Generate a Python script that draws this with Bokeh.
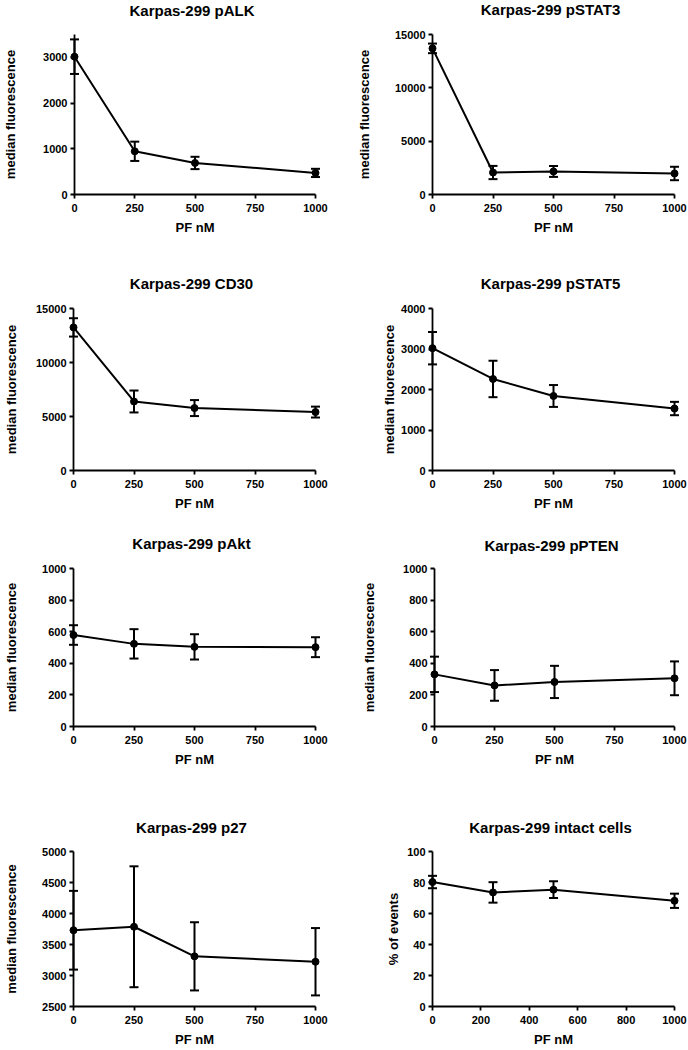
from bokeh.plotting import figure
from bokeh.layouts import column, row
from bokeh.models import ColumnDataSource, Range1d, FixedTicker
from bokeh.core.properties import value
from bokeh.embed import file_html
from bokeh.resources import INLINE

# ---- data ----
dose = [0, 250, 500, 1000]

palk_mean = [3015, 945, 690, 472]
palk_err = [378, 211, 135, 90]

pstat3_mean = [13700, 2060, 2160, 1970]
pstat3_err = [450, 620, 510, 630]

cd30_mean = [13250, 6390, 5780, 5410]
cd30_err = [850, 1015, 740, 505]

pstat5_mean = [3020, 2260, 1840, 1530]
pstat5_err = [400, 450, 270, 165]

pakt_mean = [579, 523, 504, 502]
pakt_err = [62, 93, 80, 63]

ppten_mean = [330, 260, 282, 305]
ppten_err = [112, 97, 102, 107]

p27_mean = [3730, 3786, 3309, 3222]
p27_err = [635, 975, 550, 543]

intact_mean = [80.3, 73.6, 75.4, 68.2]
intact_err = [4.0, 6.6, 5.4, 4.6]

titles = ["Karpas-299 pALK", "Karpas-299 pSTAT3", "Karpas-299 CD30", "Karpas-299 pSTAT5",
          "Karpas-299 pAkt", "Karpas-299 pPTEN", "Karpas-299 p27", "Karpas-299 intact cells"]
y_labels = ["median fluorescence"] * 7 + ["% of events"]
x_label = "PF nM"

x_ticks_250 = [0, 250, 500, 750, 1000]
x_ticks_200 = [0, 200, 400, 600, 800, 1000]

y_ticks = [
    [0, 1000, 2000, 3000],
    [0, 5000, 10000, 15000],
    [0, 5000, 10000, 15000],
    [0, 1000, 2000, 3000, 4000],
    [0, 200, 400, 600, 800, 1000],
    [0, 200, 400, 600, 800, 1000],
    [2500, 3000, 3500, 4000, 4500, 5000],
    [0, 20, 40, 60, 80, 100],
]
y_ranges = [(0, 3500), (0, 15000), (0, 15000), (0, 4000), (0, 1000), (0, 1000), (2500, 5000), (0, 100)]

means = [palk_mean, pstat3_mean, cd30_mean, pstat5_mean, pakt_mean, ppten_mean, p27_mean, intact_mean]
errs = [palk_err, pstat3_err, cd30_err, pstat5_err, pakt_err, ppten_err, p27_err, intact_err]

# ---- layout geometry (width, height, left, right, top, bottom, title gap px, ylabel standoff) ----
geom = [
    (344, 250, 74, 29, 34, 55, 24, 22),
    (344, 250, 88, 14, 32, 56, 25, 20),
    (344, 265, 73, 29, 58, 44, 25, 14),
    (344, 265, 88, 14, 57, 45, 25, 1),
    (344, 275, 73, 29, 53, 62, 25, 20),
    (344, 275, 90, 14, 49, 64, 24, 23),
    (344, 259, 73, 29, 58, 38, 25, 20),
    (344, 259, 88, 14, 61, 36, 25, 3),
]

FONT = "Liberation Sans"


def make_panel(i):
    w, h, ml, mr, mt, mb, tgap, ylstand = geom[i]
    y0, y1 = y_ranges[i]
    p = figure(width=w, height=h, output_backend="svg", toolbar_location=None,
               min_border_left=ml, min_border_right=mr,
               min_border_top=mt, min_border_bottom=mb,
               x_range=Range1d(0, 1000), y_range=Range1d(y0, y1))
    p.outline_line_color = None
    p.xgrid.visible = False
    p.ygrid.visible = False
    p.background_fill_color = "white"
    p.border_fill_color = "white"

    # panel title, placed a fixed number of pixels above the plot frame
    frame_w = w - ml - mr
    frame_h = h - mt - mb
    tx = 500 - 3 * 1000 / frame_w
    ty = y1 + tgap * (y1 - y0) / frame_h
    p.text(x=[tx], y=[ty], text=[titles[i]], text_align="center", text_baseline="middle",
           text_font=value(FONT), text_font_size=value("15px"), text_font_style="bold",
           text_color="black", level="overlay")

    xt = x_ticks_200 if i == 7 else x_ticks_250
    p.xaxis.ticker = FixedTicker(ticks=xt)
    p.xaxis.major_label_overrides = {t: str(t) for t in xt}
    p.yaxis.ticker = FixedTicker(ticks=y_ticks[i])
    p.yaxis.major_label_overrides = {t: str(t) for t in y_ticks[i]}

    for ax in (p.xaxis, p.yaxis):
        ax.axis_line_width = 1.8
        ax.axis_line_color = "black"
        ax.major_tick_line_width = 1.8
        ax.major_tick_line_color = "black"
        ax.major_tick_out = 4
        ax.major_tick_in = 0
        ax.minor_tick_line_color = None
        ax.major_label_text_font = FONT
        ax.major_label_text_font_size = "11px"
        ax.major_label_text_font_style = "bold"
        ax.major_label_text_color = "black"
        ax.axis_label_text_font = FONT
        ax.axis_label_text_font_size = "13px"
        ax.axis_label_text_font_style = "bold"
        ax.axis_label_text_color = "black"
    p.xaxis.major_label_standoff = 5
    p.xaxis.axis_label_standoff = 5
    p.yaxis.major_label_standoff = 3
    p.yaxis.axis_label_standoff = ylstand
    p.xaxis.axis_label = x_label
    p.yaxis.axis_label = y_labels[i]

    m = means[i]
    e = errs[i]
    src = ColumnDataSource(dict(x=dose, y=m,
                                upper=[a + b for a, b in zip(m, e)],
                                lower=[a - b for a, b in zip(m, e)]))
    p.line("x", "y", source=src, line_color="black", line_width=2, level="overlay")
    p.segment(x0="x", y0="lower", x1="x", y1="upper", source=src,
              line_color="black", line_width=2, level="overlay")
    p.scatter("x", "upper", source=src, marker="dash", size=9,
              line_color="black", line_width=2, level="overlay")
    p.scatter("x", "lower", source=src, marker="dash", size=9,
              line_color="black", line_width=2, level="overlay")
    p.scatter("x", "y", source=src, size=7, marker="circle",
              fill_color="black", line_color="black", level="overlay")
    return p


panels = [make_panel(i) for i in range(8)]
layout = column(row(panels[0], panels[1]), row(panels[2], panels[3]),
                row(panels[4], panels[5]), row(panels[6], panels[7]))

open("out.html", "w").write(file_html(layout, INLINE))
